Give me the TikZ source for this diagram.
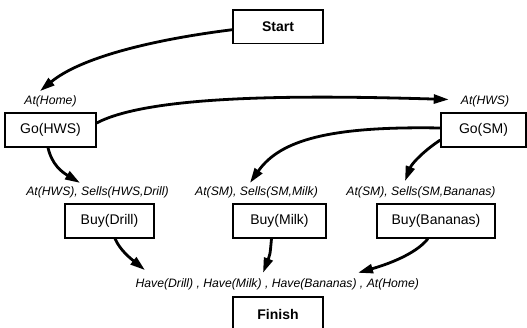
\documentclass[tikz,border=0pt]{standalone}
\usepackage{fontspec}
\setmainfont{Liberation Sans}
\usetikzlibrary{arrows.meta}
\begin{document}
\begin{tikzpicture}[x=1pt,y=-1pt,
  act/.style={draw, line width=1.3pt, minimum height=34pt, inner sep=0pt,
    font=\fontsize{14}{16}\selectfont},
  cond/.style={inner sep=1pt, font=\fontsize{12.2}{14}\selectfont\itshape},
  flow/.style={line width=2.8pt, -{Triangle[length=15pt,width=9pt]}}]
\useasboundingbox (0,0) rectangle (527,328);

% actions
\node[act, minimum width=90pt, minimum height=33.5pt] (start) at (278,26.7) {\bfseries Start};
\node[act, minimum width=91pt]  (gohws)    at (50.5,130)  {Go(HWS)};
\node[act, minimum width=85pt]  (gosm)     at (483.5,130) {Go(SM)};
\node[act, minimum width=89pt]  (buydrill) at (109.5,221) {Buy(Drill)};
\node[act, minimum width=93pt]  (buymilk)  at (279.5,221) {Buy(Milk)};
\node[act, minimum width=118pt] (buyban)   at (436,221)   {Buy(Bananas)};
\node[act, minimum width=90pt]  (finish)   at (278,314)   {\bfseries Finish};

% preconditions
\node[cond] (athome)  at (50.5,101.5) {At(Home)};
\node[cond] (athws)   at (485,101.5)  {At(HWS)};
\node[cond] (prdrill) at (97.5,192.5) {At(HWS), Sells(HWS,Drill)};
\node[cond] (prmilk)  at (256.5,192.5){At(SM), Sells(SM,Milk)};
\node[cond] (prban)   at (421,192.5)  {At(SM), Sells(SM,Bananas)};
\node[cond] (goal)    at (277.3,284)  {Have(Drill) , Have(Milk) , Have(Bananas) , At(Home)};

% causal links
\draw[flow] ([yshift=-3pt]start.west) .. controls (150,40) and (80,58)
  .. ([xshift=-10.5pt,yshift=3.5pt]athome.north);
\draw[flow] ([yshift=7pt]gohws.east) .. controls (150,95) and (300,95)
  .. ([xshift=-11pt,yshift=2pt]athws.west);
\draw[flow] ([yshift=2pt]gosm.west) .. controls (330,126) and (280,140)
  .. ([xshift=-6.5pt,yshift=2.7pt]prmilk.north);
\draw[flow] ([yshift=-10pt]gosm.west) .. controls (425,150) and (412,163)
  .. ([xshift=-16pt,yshift=4.5pt]prban.north);
\draw[flow] ([xshift=-2.5pt]gohws.south) .. controls (52,165) and (62,172)
  .. ([xshift=-17.5pt,yshift=2.7pt]prdrill.north);
\draw[flow] ([xshift=5.5pt]buydrill.south) .. controls (120,250) and (130,258)
  .. ([xshift=-132.3pt,yshift=7pt]goal.north);
\draw[flow] ([xshift=-8pt]buymilk.south) .. controls (270,255)
  .. ([xshift=-14.3pt,yshift=4.3pt]goal.north);
\draw[flow] ([xshift=-8pt]buyban.south) .. controls (415,255) and (385,265)
  .. ([xshift=80.7pt,yshift=4.3pt]goal.north);
\end{tikzpicture}
\end{document}
